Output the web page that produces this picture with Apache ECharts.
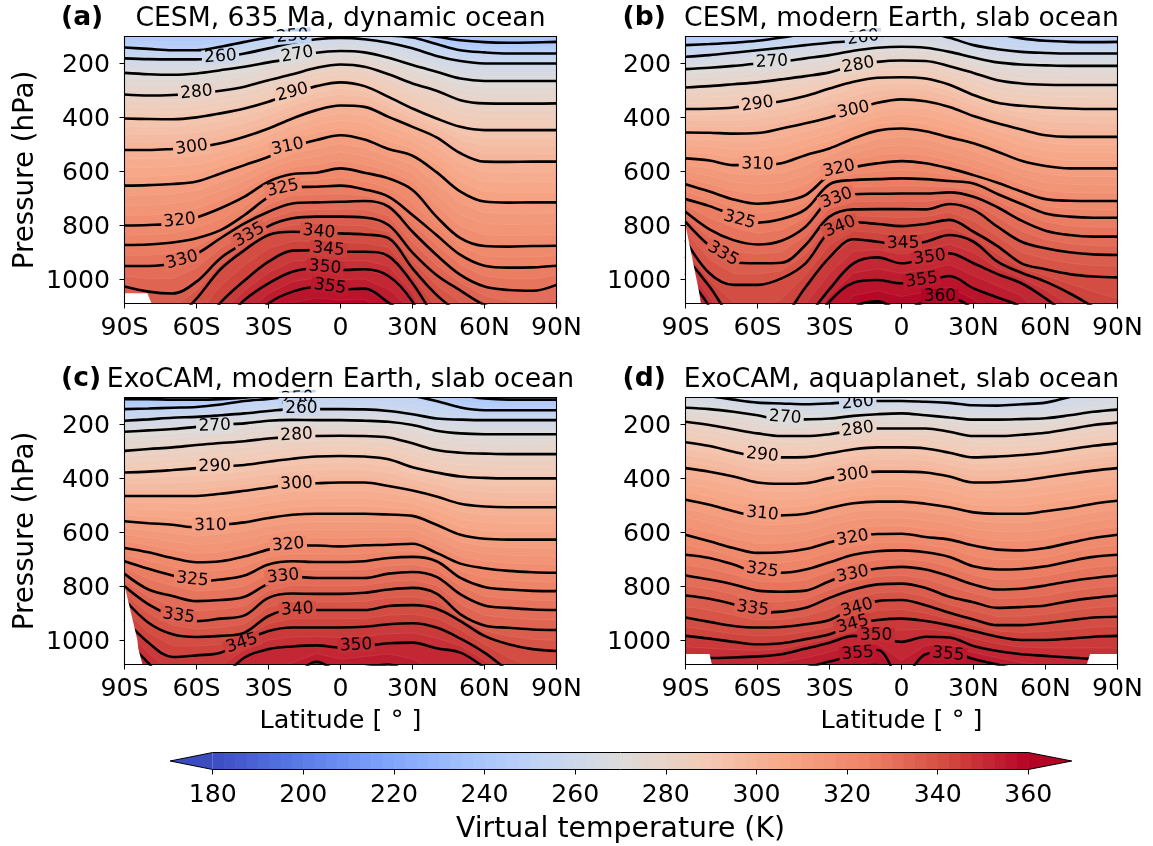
<!DOCTYPE html>
<html><head><meta charset="utf-8">
<style>html,body{margin:0;padding:0;background:#fff}#c{width:1153px;height:846px}</style>
<script src="https://cdn.jsdelivr.net/npm/echarts@6/dist/echarts.min.js"></script>
</head><body><div id="c"></div>
<script>
// ---------- data (hPa of each isotherm at each latitude) ----------
const latitudes=[-90,-80,-70,-60,-50,-40,-30,-20,-10,0,10,20,30,40,50,60,70,80,90];
const latTicks=['90S','60S','30S','0','30N','60N','90N'];
const pressureTicks=[200,400,600,800,1000];
const colorbarTicks=[180,200,220,240,260,280,300,320,340,360];

const levelsA=[240,250,260,270,280,290,300,310,320,325,330,335,340,345,350,355];
const a240=[90,90,90,90,85,80,75,70,70,70,75,80,90,101,114,121,123,122,120];
const a250=[141,146,151,151,138,120,104,93,86,84,89,96,104,128,151,159,163,163,163];
const a260=[181,184,185,185,178,163,144,123,110,105,110,123,144,172,191,200,200,200,200];
const a270=[235,240,242,237,225,212,196,181,160,154,159,179,206,231,256,265,265,265,265];
const a280=[315,319,317,311,301,286,262,240,216,204,212,240,274,301,336,348,349,349,348];
const a290=[404,406,407,400,385,367,342,311,284,270,284,324,367,404,435,447,447,447,447];
const a300=[521,521,517,511,496,472,441,404,373,356,361,398,435,474,533,564,565,564,564];
const a310=[653,651,647,638,608,577,546,509,484,466,482,517,542,603,675,712,716,715,715];
const a320=[801,799,793,771,737,694,638,610,605,589,605,626,669,768,848,877,879,877,876];
const a325=[873,871,864,848,818,762,696,659,657,653,667,694,762,836,910,950,957,956,950];
const a330=[951,951,941,906,848,793,750,719,715,713,710,731,824,910,984,1027,1040,1043,1021];
const a335=[1027,1046,1053,1009,922,864,803,774,768,768,771,799,901,984,1042,1095,1120,1130,1130];
const a340=[1250,1220,1160,1072,963,892,836,824,826,830,834,848,960,1058,1130,1200,1250,1280,1280];
const a345=[1400,1350,1300,1200,1087,1005,935,894,892,898,898,914,1015,1150,1250,1300,1350,1400,1400];
const a350=[1500,1450,1350,1250,1170,1077,1015,972,960,966,963,988,1083,1250,1300,1400,1450,1500,1500];
const a355=[1600,1550,1500,1400,1300,1180,1090,1046,1030,1037,1035,1087,1150,1300,1400,1500,1550,1600,1600];

const levelsB=[250,260,270,280,290,300,310,320,325,330,335,340,345,350,355,360];
const b250=[132,128,123,116,104,89,76,70,67,64,64,67,70,91,107,116,120,121,120];
const b260=[175,169,160,151,142,132,123,116,101,89,87,105,132,147,157,161,163,163,163];
const b270=[221,216,209,200,193,181,169,153,142,138,142,157,178,196,204,207,209,209,209];
const b280=[289,284,277,270,259,247,233,209,194,189,191,210,235,262,274,279,280,280,280];
const b290=[369,368,363,351,340,321,293,268,253,251,256,279,317,346,357,363,367,369,369];
const b300=[456,457,460,458,441,422,400,373,346,333,340,361,395,422,445,466,472,472,472];
const b310=[552,560,577,577,570,540,515,478,449,441,451,474,496,527,561,580,589,589,589];
const b320=[648,675,704,720,712,688,614,585,570,562,570,589,614,642,675,703,709,710,710];
const b325=[703,729,762,790,777,741,648,632,629,626,629,636,645,684,721,756,768,772,772];
const b330=[750,815,855,871,857,805,706,685,683,682,682,678,694,733,783,820,836,842,842];
const b335=[787,876,937,941,939,873,768,741,740,740,741,721,743,805,861,885,900,908,910];
const b340=[855,978,1021,1021,997,941,824,789,795,803,795,780,824,877,941,963,981,990,993];
const b345=[916,1027,1151,1200,1151,1030,919,852,861,873,861,836,861,935,976,1009,1052,1102,1151];
const b350=[978,1102,1262,1324,1262,1151,1037,941,919,941,922,904,941,981,1015,1071,1139,1200,1262];
const b355=[1300,1350,1450,1500,1400,1200,1083,1013,1003,1015,1009,988,1034,1068,1108,1250,1350,1450,1500];
const b360=[1700,1700,1800,1800,1700,1500,1250,1108,1082,1114,1083,1071,1114,1250,1400,1600,1700,1800,1800];

const levelsC=[240,250,260,270,280,290,300,310,320,325,330,335,340,345,350,355];
const c240=[106,106,108,108,106,101,92,86,82,79,79,79,79,83,92,104,108,108,108];
const c250=[143,141,138,135,126,113,105,95,89,85,85,85,94,113,137,147,147,147,147];
const c260=[186,181,175,172,166,159,150,143,143,143,144,150,162,178,182,184,184,184,184];
const c270=[227,222,217,209,200,196,186,183,184,184,186,190,202,223,233,236,236,236,236];
const c280=[298,291,285,276,269,262,252,246,243,242,243,248,270,295,305,308,310,310,310];
const c290=[378,375,369,362,356,350,338,327,319,317,319,329,359,378,393,398,400,400,400];
const c300=[465,465,465,465,457,446,434,420,418,415,415,428,445,467,494,504,507,507,507];
const c310=[559,566,572,582,572,563,547,535,531,531,531,534,539,572,609,624,627,627,627];
const c320=[658,674,695,711,707,689,664,649,649,652,648,646,642,676,716,733,743,748,750];
const c325=[707,735,760,781,775,760,719,707,710,710,707,695,691,707,769,803,812,817,818];
const c330=[754,812,836,855,851,839,790,765,769,769,769,753,747,765,830,871,880,886,888];
const c335=[800,867,910,929,920,908,843,827,828,828,824,812,806,827,904,945,954,960,962];
const c340=[849,935,978,988,984,972,910,886,888,888,888,873,870,883,929,984,1015,1033,1040];
const c345=[923,1009,1062,1056,1046,1003,966,953,953,953,950,941,937,953,994,1046,1113,1169,1218];
const c350=[996,1085,1181,1193,1144,1064,1033,1023,1019,1027,1021,1011,1009,1030,1046,1101,1163,1218,1267];
const c355=[1500,1500,1500,1500,1400,1300,1200,1144,1080,1113,1100,1090,1130,1200,1250,1350,1450,1500,1550];

const levelsD=[260,270,280,290,300,310,320,325,330,335,340,345,350,355];
const d260=[86,95,108,119,122,125,122,116,113,113,116,120,129,130,125,119,98,79,67];
const d270=[138,143,153,166,182,181,178,168,162,159,166,174,182,182,180,177,166,153,145];
const d280=[190,202,218,233,243,243,236,223,215,215,215,227,243,243,238,231,217,202,193];
const d290=[266,280,301,319,322,321,307,292,285,285,289,305,322,319,313,305,292,279,270];
const d300=[362,375,393,415,420,418,399,383,375,375,378,393,415,414,408,396,383,371,362];
const d310=[479,498,522,538,537,531,510,492,486,486,494,507,526,531,531,522,510,494,483];
const d320=[609,633,658,676,674,662,637,615,606,605,617,627,649,664,667,658,639,621,609];
const d325=[683,695,719,748,750,738,711,683,670,667,674,691,726,738,736,726,707,691,683];
const d330=[760,775,793,816,820,816,781,750,734,728,738,763,793,812,809,797,781,769,760];
const d335=[834,846,867,898,894,880,843,812,793,790,806,839,859,880,877,871,855,843,834];
const d340=[916,932,947,953,951,941,925,880,855,851,870,898,923,944,944,937,926,916,913];
const d345=[984,994,1006,1015,1011,996,978,941,925,920,929,945,966,987,999,999,994,987,984];
const d350=[1064,1066,1064,1060,1052,1031,1009,984,990,1006,987,990,1021,1040,1052,1058,1064,1070,1076];
const d355=[1250,1220,1180,1150,1110,1101,1079,1056,1036,1144,1052,1043,1070,1090,1113,1130,1150,1170,1180];

// contour labels: text, latitude, pressure, tilt
const textA=['250','260','270','280','290','300','310','320','325','330','335','340','345','350','355'];
const labLatA=[-20,-50,-18,-60,-20,-62,-22,-67,-24,-66,-38,-9,-5,-6.5,-4.4];
const labPA=[99,175,167,307,307,511,509,783,663,929,836,824,889,956,1027];
const tiltA=[5,4,10,5,15,8,12,6,12,15,30,-5,-5,-5,-8];

const textB=['260','270','280','290','300','310','320','330','340','325','335','345','350','355','360'];
const labLatB=[-16,-54,-18,-60,-20,-60,-26,-27,-25.6,-67.5,-74.4,0.7,11.8,8.4,16];
const labPB=[104,194,206,351,373,574,591,700,805,780,906,867,919,1003,1064];
const tiltB=[8,3,10,8,12,-2,12,20,22,-15,-30,1,8,8,0];

const textC=['250','260','270','280','290','300','310','320','325','330','335','340','345','350'];
const labLatC=[-18,-16.3,-52.4,-18.3,-52.4,-18.3,-54.2,-21.8,-61.7,-23.9,-67.4,-18,-41,6.5];
const labPC=[103,141,205,239,356,420,575,646,775,763,910,886,1011,1019];
const tiltC=[3,0,2,3,1,3,1,5,-6,6,-8,3,18,3];

const textD=['260','270','280','290','300','310','320','325','330','335','340','345','350','355','355'];
const labLatD=[-18.2,-48.5,-18.2,-58,-20.3,-58,-20.3,-58,-20.3,-62,-18.5,-20.3,-10.6,-18.2,19.5];
const labPD=[119,174,218,313,387,531,621,740,756,883,880,941,982,1049,1052];
const tiltD=[5,-4,8,-6,8,-6,10,-8,12,-8,15,15,0,5,-5];

// regions below the surface
const maskLatA=[-90,-80.5,-78.7]; const maskPA=[1052,1052,1090];
const maskLatB=[-90,-84.5,-83.6]; const maskPB=[800,1040,1090];
const maskLatC=[-90,-84.7,-84.2,-82.5]; const maskPC=[797,996,1033,1090];
const maskLatD1=[-90,-80,-79]; const maskPD1=[1051,1051,1090];
const maskLatD2=[77.2,78.6,90]; const maskPD2=[1090,1051,1051];

// ---------- styling / layout ----------
const FONT='DejaVu Sans';
const cmapStops=[[59,76,192],[88,120,228],[123,159,249],[158,190,254],[192,212,245],[221,220,220],
                 [242,203,183],[247,168,137],[238,132,104],[210,75,64],[180,4,38]];
function cmap(T){
  let t=Math.max(0,Math.min(1,(T-180)/180))*10, i=Math.min(9,Math.floor(t)), f=t-i;
  const a=cmapStops[i], b=cmapStops[i+1];
  return 'rgb('+[0,1,2].map(k=>Math.round(a[k]+(b[k]-a[k])*f)).join(',')+')';
}
const panels=[
 {letter:'(a)',title:'CESM, 635 Ma, dynamic ocean',left:124.5,top:36.5,levels:levelsA,
  lines:[a240,a250,a260,a270,a280,a290,a300,a310,a320,a325,a330,a335,a340,a345,a350,a355],
  text:textA,labLat:labLatA,labP:labPA,tilt:tiltA,masks:[[maskLatA,maskPA]],showY:true,showXName:false},
 {letter:'(b)',title:'CESM, modern Earth, slab ocean',left:685.5,top:36.5,levels:levelsB,
  lines:[b250,b260,b270,b280,b290,b300,b310,b320,b325,b330,b335,b340,b345,b350,b355,b360],
  text:textB,labLat:labLatB,labP:labPB,tilt:tiltB,masks:[[maskLatB,maskPB]],showY:false,showXName:false},
 {letter:'(c)',title:'ExoCAM, modern Earth, slab ocean',left:124.5,top:397.5,levels:levelsC,
  lines:[c240,c250,c260,c270,c280,c290,c300,c310,c320,c325,c330,c335,c340,c345,c350,c355],
  text:textC,labLat:labLatC,labP:labPC,tilt:tiltC,masks:[[maskLatC,maskPC]],showY:true,showXName:true},
 {letter:'(d)',title:'ExoCAM, aquaplanet, slab ocean',left:685.5,top:397.5,levels:levelsD,
  lines:[d260,d270,d280,d290,d300,d310,d320,d325,d330,d335,d340,d345,d350,d355],
  text:textD,labLat:labLatD,labP:labPD,tilt:tiltD,masks:[[maskLatD1,maskPD1],[maskLatD2,maskPD2]],showY:false,showXName:true}
];
const W=432,H=267,PMIN=100,PMAX=1090,BAND=2.5;

const grid=[],xAxis=[],yAxis=[],series=[],title=[],graphic=[];
panels.forEach((pn,g)=>{
  grid.push({left:pn.left,top:pn.top,width:W,height:H,containLabel:false});
  xAxis.push({gridIndex:g,type:'value',min:-90,max:90,interval:30,
    name:pn.showXName?'Latitude [ ° ]':'',nameLocation:'middle',nameGap:44,
    nameTextStyle:{fontFamily:FONT,fontSize:25.5,color:'#000'},
    axisLine:{show:true,onZero:false,lineStyle:{color:'#000',width:1}},
    axisTick:{show:true,length:5,lineStyle:{color:'#000',width:1}},
    axisLabel:{show:true,margin:12.5,fontFamily:FONT,fontSize:25.2,color:'#000',hideOverlap:false,
      formatter:v=>latTicks[Math.round((v+90)/30)]},
    splitLine:{show:false}});
  yAxis.push({gridIndex:g,type:'value',inverse:true,min:PMIN,max:PMAX,
    name:pn.showY?'Pressure (hPa)':'',nameLocation:'middle',nameGap:84.5,nameRotate:90,
    nameTextStyle:{fontFamily:FONT,fontSize:27.7,color:'#000'},
    axisLine:{show:true,onZero:false,lineStyle:{color:'#000',width:1}},
    axisTick:{show:true,length:5,customValues:pressureTicks,lineStyle:{color:'#000',width:1}},
    axisLabel:{show:true,margin:14.5,fontFamily:FONT,fontSize:25.2,color:'#000',customValues:pressureTicks,
      verticalAlign:'top',lineHeight:4,formatter:v=>String(v)},
    splitLine:{show:false}});

  // fill: painter's stack of thin temperature bands computed between the contours
  const L=pn.levels, lo=L[0]-10, hi=L[L.length-1]+7.5;
  const lv=[lo].concat(L,[hi]);
  const rows=[latitudes.map(()=>60)].concat(pn.lines,[pn.lines[pn.lines.length-1].map(v=>v+120)]);
  const pAt=(T,i)=>{
    let k=0; while(k<lv.length-2 && T>lv[k+1]) k++;
    const f=(T-lv[k])/(lv[k+1]-lv[k]);
    return rows[k][i]+(rows[k+1][i]-rows[k][i])*f;
  };
  const sub=[]; for(let T=lo;T<hi;T+=BAND) sub.push([T]);
  series.push({type:'custom',xAxisIndex:g,yAxisIndex:g,coordinateSystem:'cartesian2d',clip:true,z:1,silent:true,
    data:sub,encode:{x:0,y:0},
    renderItem:(params,api)=>{
      const T=api.value(0);
      const pts=latitudes.map((la,i)=>api.coord([la,pAt(T,i)]));
      pts.push(api.coord([90,3000]));pts.push(api.coord([-90,3000]));
      return {type:'polygon',shape:{points:pts},
        style:{fill:cmap(T+BAND/2),stroke:'rgba(255,255,255,0.14)',lineWidth:0.6}};
    }});
  // contours
  pn.lines.forEach((row,k)=>{
    series.push({type:'line',name:String(L[k]),xAxisIndex:g,yAxisIndex:g,z:2,silent:true,
      data:row.map((p,i)=>[latitudes[i],p]),showSymbol:false,smooth:0.35,clip:true,
      lineStyle:{color:'#000',width:2.6},animation:false});
  });
  // surface mask
  pn.masks.forEach(m=>{
    series.push({type:'custom',xAxisIndex:g,yAxisIndex:g,coordinateSystem:'cartesian2d',clip:true,z:3,silent:true,
      data:[[0]],encode:{x:0,y:0},
      renderItem:(params,api)=>{
        const pts=m[0].map((la,i)=>api.coord([la,m[1][i]]));
        pts.push(api.coord([m[0][m[0].length-1],3000]));pts.push(api.coord([m[0][0],3000]));
        return {type:'polygon',shape:{points:pts},style:{fill:'#fff'}};
      }});
  });
  // contour labels
  series.push({type:'scatter',xAxisIndex:g,yAxisIndex:g,z:4,silent:true,clip:false,symbol:'circle',symbolSize:1,
    itemStyle:{color:'rgba(0,0,0,0)'},
    data:pn.text.map((t,i)=>({value:[pn.labLat[i],pn.labP[i]],
      label:{show:true,position:'inside',formatter:t,rotate:pn.tilt[i],fontFamily:FONT,fontSize:17,color:'#000',
        textBorderWidth:0,textShadowBlur:0,opacity:1,
        align:'center',verticalAlign:'middle',lineHeight:13,padding:[2,2.5,0,2.5],backgroundColor:cmap(+t)}}))});

  title.push({text:pn.title,left:pn.left+W/2,top:pn.top-31,textAlign:'center',padding:0,
    textStyle:{fontFamily:FONT,fontSize:26.6,fontWeight:'normal',color:'#000'}});
  title.push({text:pn.letter,left:pn.left===124.5?61:622.5,top:pn.top-32,padding:0,
    textStyle:{fontFamily:FONT,fontSize:26.6,fontWeight:'bold',color:'#000'}});
  // hide the top part of labels that pass over the frame, then draw the frame
  graphic.push({type:'rect',z:90,silent:true,shape:{x:pn.left-1,y:pn.top-5,width:W+2,height:5},style:{fill:'#fff'}});
  graphic.push({type:'rect',z:100,silent:true,shape:{x:pn.left,y:pn.top,width:W,height:H},
    style:{fill:'none',stroke:'#000',lineWidth:1.1}});
});

// colour bar
const cg=panels.length;
grid.push({left:212.7,top:752.5,width:815.6,height:17});
xAxis.push({gridIndex:cg,type:'value',min:180,max:360,interval:20,
  name:'Virtual temperature (K)',nameLocation:'middle',nameGap:46.5,
  nameTextStyle:{fontFamily:FONT,fontSize:28.3,color:'#000'},
  axisLine:{show:false},axisTick:{show:true,length:5,lineStyle:{color:'#000',width:1}},
  axisLabel:{show:true,margin:13,fontFamily:FONT,fontSize:25.2,color:'#000'},splitLine:{show:false}});
yAxis.push({gridIndex:cg,type:'value',min:0,max:1,show:false});
const cbBands=[];for(let T=180;T<360;T+=BAND)cbBands.push([T]);
series.push({type:'custom',xAxisIndex:cg,yAxisIndex:cg,coordinateSystem:'cartesian2d',z:1,silent:true,
  data:cbBands,encode:{x:0,y:1},
  renderItem:(params,api)=>{
    const T=api.value(0),a=api.coord([T,1]),b=api.coord([T+BAND,0]);
    return {type:'rect',shape:{x:a[0],y:a[1],width:b[0]-a[0]+0.6,height:b[1]-a[1]},style:{fill:cmap(T+BAND/2)}};
  }});
const TIP_L=170.6,TIP_R=369.6;
series.push({type:'custom',xAxisIndex:cg,yAxisIndex:cg,coordinateSystem:'cartesian2d',z:2,silent:true,
  data:[[180]],encode:{x:0,y:0},
  renderItem:(params,api)=>({type:'group',children:[
    {type:'polygon',shape:{points:[api.coord([TIP_L,0.5]),api.coord([180,1]),api.coord([180,0])]},style:{fill:cmap(170)}},
    {type:'polygon',shape:{points:[api.coord([TIP_R,0.5]),api.coord([360,1]),api.coord([360,0])]},style:{fill:cmap(365)}},
    {type:'polygon',shape:{points:[api.coord([TIP_L,0.5]),api.coord([180,1]),api.coord([360,1]),api.coord([TIP_R,0.5]),api.coord([360,0]),api.coord([180,0])]},
     style:{fill:'none',stroke:'#000',lineWidth:1}}]})});

const chart=echarts.init(document.getElementById('c'),null,{renderer:'canvas'});
chart.setOption({animation:false,backgroundColor:'#fff',title,grid,xAxis,yAxis,series,graphic});
</script></body></html>
